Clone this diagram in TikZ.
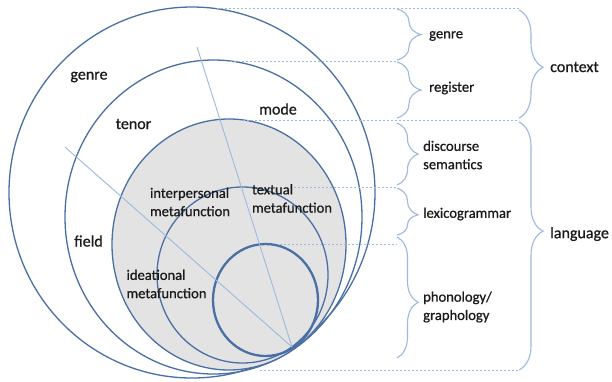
\documentclass[tikz,border=0pt]{standalone}
\usepackage{fontspec}
\setmainfont{Carlito}
\usetikzlibrary{decorations.pathreplacing}
\definecolor{ringc}{HTML}{4A6FA5}
\definecolor{pale}{HTML}{9CB9DE}
\definecolor{shade}{HTML}{E4E3E3}
\definecolor{ink}{HTML}{1A1A1A}
\begin{document}
\begin{tikzpicture}[x=1pt,y=-1pt,
 ring/.style={draw=ringc,line width=1.3pt},
 thickring/.style={draw=ringc,line width=2.3pt},
 ray/.style={draw=pale,line width=0.9pt},
 guide/.style={draw=pale,line width=1pt,dash pattern=on 2pt off 2pt},
 brc/.style={draw=pale,line width=1.1pt,decorate,decoration={brace,amplitude=#1}},
 brc/.default=24pt,
 big/.style={text=ink,inner sep=0pt,font=\fontsize{16}{19}\selectfont\addfontfeature{FakeBold=0.7}},
 small/.style={text=ink,inner sep=0pt,align=left,font=\fontsize{14.6}{18.3}\selectfont\addfontfeature{FakeBold=0.7}}]
\useasboundingbox[fill=white] (0,0) rectangle (612,381);

% circles
\path[ring] (192,192.5) ellipse [x radius=183pt, y radius=185.5pt];
\path[ring] (213.5,217) ellipse [x radius=148.5pt, y radius=157pt];
\path[ring,fill=shade] (229,244.5) ellipse [x radius=117pt, y radius=125.5pt];
\path[ring] (242.5,275) ellipse [x radius=85.5pt, y radius=88pt];
\path[thickring] (265.5,300) ellipse [x radius=52.5pt, y radius=56pt];

% rays
\coordinate (apex) at (292,347);
\coordinate (ra) at (197,47);
\coordinate (rb) at (65,147);
\draw[ray] (ra) -- (apex);
\draw[ray] (rb) -- (apex);

% guide line coordinates
\coordinate (s1) at (217,8);   \coordinate (e1) at (519,8);
\coordinate (s2) at (230,61);  \coordinate (e2) at (397,61);
\coordinate (s3) at (243,120); \coordinate (e3) at (519,120);
\coordinate (s4) at (290,187); \coordinate (e4) at (397,187);
\coordinate (s5) at (280,244); \coordinate (e5) at (397,244);
\coordinate (s6) at (260,370); \coordinate (e6) at (519,370);
\draw[guide] (s1) -- (e1);
\draw[guide] (s2) -- (e2);
\draw[guide] (s3) -- (e3);
\draw[guide] (s4) -- (e4);
\draw[guide] (s5) -- (e5);
\draw[guide] (s6) -- (e6);

% brace ends
\coordinate (ga) at (397,9);   \coordinate (gb) at (397,60);
\coordinate (rga) at (397,62); \coordinate (rgb) at (397,118);
\coordinate (da) at (397,123); \coordinate (db) at (397,185);
\coordinate (la) at (397,188); \coordinate (lb) at (397,235);
\coordinate (pa) at (397,237); \coordinate (pb) at (397,358);
\coordinate (ca) at (519,10);  \coordinate (cb) at (519,118);
\coordinate (na) at (519,122); \coordinate (nb) at (519,370);
\draw[brc] (ga) -- (gb);
\draw[brc] (rga) -- (rgb);
\draw[brc=21pt] (da) -- (db);
\draw[brc=21pt,decoration={aspect=0.57}] (la) -- (lb);
\draw[brc=21pt,decoration={aspect=0.54}] (pa) -- (pb);
\draw[brc,decoration={aspect=0.53}] (ca) -- (cb);
\draw[brc,decoration={aspect=0.44}] (na) -- (nb);

% labels in circles
\node[big] (lgenre) at (89,77) {genre};
\node[big] (ltenor) at (133.5,124) {tenor};
\node[big] (lfield) at (88.5,241) {field};
\node[big] (lmode) at (278,109) {mode};
\node[small] (linter) at (190,202) {interpersonal\\metafunction};
\node[small] (ltext) at (292,198.5) {textual\\metafunction};
\node[small] (lidea) at (166.5,284) {ideational\\metafunction};

% labels at right
\node[small,anchor=west] (rgenre) at (429,36) {genre};
\node[small,anchor=west] (rreg) at (429,88) {register};
\node[small,anchor=west] (rdisc) at (423,155) {discourse\\semantics};
\node[small,anchor=west] (rlex) at (423,214) {lexicogrammar};
\node[small,anchor=west] (rphon) at (423,307) {phonology/\\graphology};
\node[big,anchor=west] (rcon) at (550,67) {context};
\node[big,anchor=west] (rlang) at (550,234) {language};
\end{tikzpicture}
\end{document}
